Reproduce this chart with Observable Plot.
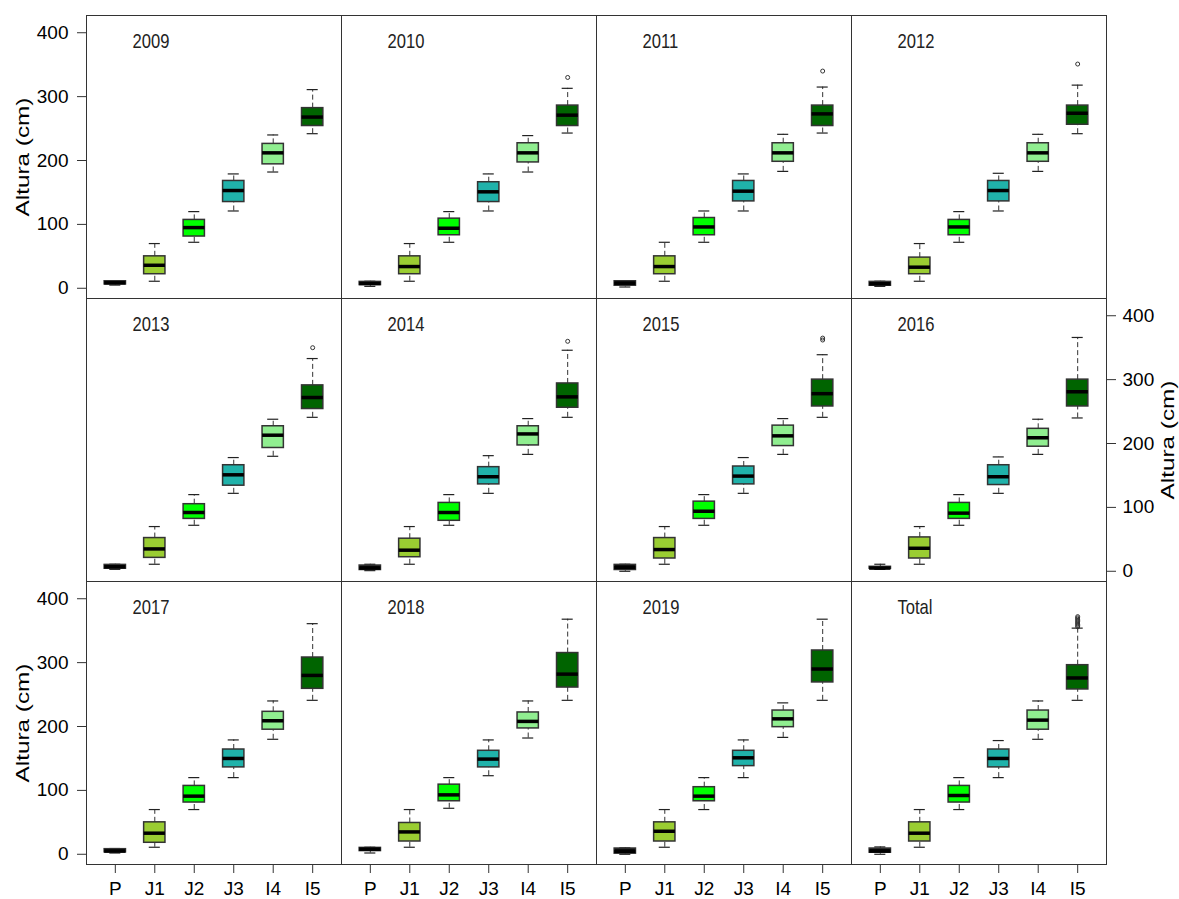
<!DOCTYPE html>
<html>
<head>
<meta charset="utf-8">
<script src="https://cdn.jsdelivr.net/npm/d3@7"></script>
<script src="https://cdn.jsdelivr.net/npm/@observablehq/plot@0.6"></script>
<style>
  html, body { margin: 0; padding: 0; background: #fff; }
  #chart { position: relative; width: 1179px; height: 899px; background: #fff; overflow: hidden; }
  #chart svg { position: absolute; }
</style>
</head>
<body>
<div id="chart"></div>
<script>
// ---- data ----
const categories = ["P", "J1", "J2", "J3", "I4", "I5"];
const colors = ["#111111", "#9ACD32", "#00FF00", "#20B2AA", "#90EE90", "#006400"];
const panelNames = ["2009", "2010", "2011", "2012", "2013", "2014", "2015", "2016", "2017", "2018", "2019", "Total"];
const yTicks = [0, 100, 200, 300, 400];

// each entry: [lower whisker, Q1, median, Q3, upper whisker] for P, J1, J2, J3, I4, I5
const box2009 = [[5, 6, 8.5, 11, 12], [11, 22, 36, 50, 70], [72, 81, 95, 107, 120], [121, 135, 153, 168, 179], [182, 194, 212, 226, 240], [242, 254, 268, 282, 311]];
const box2010 = [[3, 5, 7.5, 10, 11], [11, 22, 34, 50, 70], [72, 83, 94, 109, 120], [121, 135, 151, 166, 179], [182, 197, 212, 227, 239], [243, 254, 271, 286, 313]];
const box2011 = [[2, 4, 8, 11, 12], [11, 22, 34, 50, 72], [72, 83, 96, 110, 121], [121, 136, 152, 168, 179], [183, 198, 212, 227, 241], [243, 254, 273, 286, 315]];
const box2012 = [[3, 4, 7, 10, 11], [11, 22, 33, 48, 70], [72, 83, 96, 107, 120], [121, 136, 153, 168, 180], [183, 198, 212, 227, 241], [242, 256, 274, 286, 318]];
const box2013 = [[3, 4, 7, 10, 11], [11, 21, 35, 52, 70], [72, 82, 92, 105, 120], [122, 134, 151, 166, 178], [180, 193, 213, 227, 238], [241, 254, 272, 291, 333]];
const box2014 = [[1, 2, 5, 9, 11], [11, 22, 33, 51, 70], [72, 79, 92, 107, 120], [122, 136, 148, 163, 181], [183, 197, 215, 227, 239], [241, 256, 273, 294, 346]];
const box2015 = [[0, 2, 6, 10, 11], [11, 20, 34, 52, 70], [72, 82, 94, 109, 120], [122, 136, 149, 164, 178], [183, 196, 212, 228, 239], [241, 258, 278, 300, 339]];
const box2016 = [[3, 4, 5, 7, 11], [11, 20, 36, 53, 70], [72, 82, 91, 107, 120], [122, 135, 148, 166, 179], [183, 195, 209, 223, 238], [240, 258, 281, 300, 366]];
const box2017 = [[2, 3, 5, 8, 9], [11, 18, 33, 50, 70], [70, 81, 91, 107, 120], [120, 136, 150, 164, 179], [180, 195, 209, 223, 240], [241, 259, 280, 308, 361]];
const box2018 = [[2, 5, 8, 10, 11], [11, 20, 35, 49, 70], [72, 83, 93, 109, 120], [123, 136, 149, 162, 179], [182, 197, 208, 222, 240], [241, 261, 282, 315, 368]];
const box2019 = [[0, 1, 4.5, 9, 10], [11, 20, 36, 50, 70], [70, 83, 91, 105, 120], [120, 138, 151, 162, 179], [183, 199, 212, 225, 237], [241, 269, 290, 319, 368]];
const boxTotal = [[0, 2.5, 5, 9, 11.5], [11, 20, 33, 50, 70], [70, 81, 92, 107, 120], [120, 136, 150, 164, 178], [180, 195, 210, 225, 240], [241, 258, 276, 296, 354]];

// outliers: [panel, category, value]
const outliers = [
  ["2010", "I5", 330], ["2011", "I5", 340], ["2012", "I5", 351], ["2013", "I5", 350],
  ["2014", "I5", 360], ["2015", "I5", 362], ["2015", "I5", 365],
  ["Total", "I5", 356], ["Total", "I5", 358], ["Total", "I5", 360], ["Total", "I5", 362],
  ["Total", "I5", 364], ["Total", "I5", 366], ["Total", "I5", 368], ["Total", "I5", 370], ["Total", "I5", 372]
];

const panelStats = [box2009, box2010, box2011, box2012, box2013, box2014, box2015, box2016, box2017, box2018, box2019, boxTotal];

// ---- layout ----
const PW = 255, PH = 283, LEFT = 86, TOP = 15;
const FONT = "'Liberation Sans', Arial, sans-serif";
const chart = document.getElementById("chart");

function scaleText(svg, desc, sx) {
  svg.querySelectorAll(`g[aria-description="${desc}"] text`).forEach(t => {
    const tr = t.getAttribute("transform") || "";
    t.setAttribute("transform", tr + ` scale(${sx},1)`);
  });
}

panelNames.forEach((name, k) => {
  const r = Math.floor(k / 4), c = k % 4;
  const stats = panelStats[k];
  const rows = categories.map((cat, i) => ({
    i: i + 1, cat, color: colors[i],
    lo: stats[i][0], q1: stats[i][1], med: stats[i][2], q3: stats[i][3], hi: stats[i][4]
  }));
  const outs = outliers.filter(o => o[0] === name).map(o => ({ i: categories.indexOf(o[1]) + 1, v: o[2] }));

  const leftAxis = c === 0 && r !== 1;
  const rightAxis = c === 3 && r === 1;
  const bottomAxis = r === 2;
  const ml = leftAxis ? LEFT : 0;
  const mr = rightAxis ? 72 : 0;
  const mb = bottomAxis ? 35 : 0;

  const bw = 0.27, cw = 0.14;
  const marks = [
    Plot.ruleX(rows, { x: "i", y1: "q3", y2: "hi", stroke: "#333", strokeWidth: 1, strokeDasharray: "5,3" }),
    Plot.ruleX(rows, { x: "i", y1: "lo", y2: "q1", stroke: "#333", strokeWidth: 1, strokeDasharray: "5,3" }),
    Plot.ruleY(rows, { y: "hi", x1: d => d.i - cw, x2: d => d.i + cw, stroke: "#222", strokeWidth: 1.2 }),
    Plot.ruleY(rows, { y: "lo", x1: d => d.i - cw, x2: d => d.i + cw, stroke: "#222", strokeWidth: 1.2 }),
    Plot.rect(rows, { x1: d => d.i - bw, x2: d => d.i + bw, y1: "q1", y2: "q3", fill: d => d.color, stroke: "#333", strokeWidth: 1.5 }),
    Plot.ruleY(rows, { y: "med", x1: d => d.i - bw, x2: d => d.i + bw, stroke: "#000", strokeWidth: 3.5 }),
    Plot.dot(outs, { x: "i", y: "v", r: 2, stroke: "#333", fill: "none", strokeWidth: 1 }),
    Plot.text([name], { text: d => d, frameAnchor: "top-left", dx: 46, dy: 26, textAnchor: "start", lineAnchor: "middle", fontSize: 20, fill: "#222", ariaDescription: "panel-label" }),
    Plot.frame({ stroke: "#333", strokeWidth: 1 })
  ];
  if (leftAxis) {
    marks.push(Plot.axisY({ anchor: "left", ticks: yTicks, tickSize: 9, tickPadding: 9, fontSize: 19, label: null, stroke: "#333" }));
    marks.push(Plot.text(["Altura (cm)"], { text: d => d, frameAnchor: "left", dx: -64, rotate: -90, textAnchor: "middle", lineAnchor: "middle", fontSize: 19, fill: "#000", ariaDescription: "ytitle" }));
  }
  if (rightAxis) {
    marks.push(Plot.axisY({ anchor: "right", ticks: yTicks, tickSize: 9, tickPadding: 7, fontSize: 19, label: null, stroke: "#333" }));
    marks.push(Plot.text(["Altura (cm)"], { text: d => d, frameAnchor: "right", dx: 61, rotate: -90, textAnchor: "middle", lineAnchor: "middle", fontSize: 19, fill: "#000", ariaDescription: "ytitle" }));
  }
  if (bottomAxis) {
    marks.push(Plot.axisX({ ticks: [1, 2, 3, 4, 5, 6], tickFormat: d => categories[d - 1], tickSize: 9, tickPadding: 8, fontSize: 19, label: null, stroke: "#333" }));
  }

  const svg = Plot.plot({
    width: PW + ml + mr,
    height: PH + mb,
    marginLeft: ml, marginRight: mr, marginTop: 0, marginBottom: mb,
    x: { domain: [0.27, 6.73], axis: null },
    y: { domain: [-16, 427], axis: null },
    style: { fontFamily: FONT, background: "transparent", overflow: "visible", color: "#000" },
    marks
  });
  scaleText(svg, "panel-label", 0.83);
  scaleText(svg, "ytitle", 1.28);
  svg.style.left = (LEFT + PW * c - ml) + "px";
  svg.style.top = (TOP + PH * r) + "px";
  svg.style.maxWidth = "none";
  chart.appendChild(svg);
});
</script>
</body>
</html>
